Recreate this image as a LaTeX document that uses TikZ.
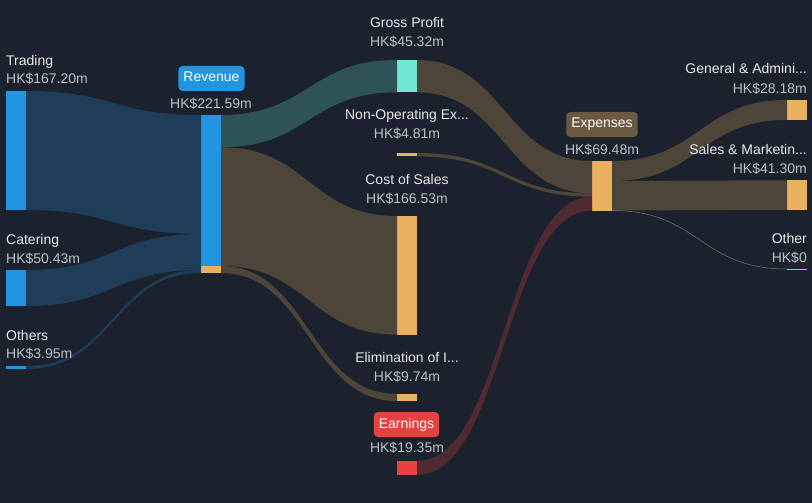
\documentclass[tikz,border=0pt]{standalone}
\usepackage{fontspec}
\setmainfont{Liberation Sans}
\usetikzlibrary{positioning}
\usetikzlibrary{calc}
\definecolor{bgdark}{HTML}{1B212D}
\definecolor{barblue}{HTML}{2394DF}
\definecolor{flowblue}{HTML}{1E3D58}
\definecolor{barteal}{HTML}{6FE6D3}
\definecolor{flowteal}{HTML}{2D5356}
\definecolor{barorange}{HTML}{E8B05F}
\definecolor{flowbrown}{HTML}{4D4538}
\definecolor{barred}{HTML}{E5423F}
\definecolor{flowred}{HTML}{4F2A33}
\definecolor{tagbrown}{HTML}{6B5942}
\definecolor{titletxt}{HTML}{E8EAED}
\definecolor{valtxt}{HTML}{BCC0C6}
\tikzset{
    bar/.style = {rectangle, inner sep=0pt, outer sep=0pt, minimum width=20pt},
    barb/.style = {bar, fill=barblue},
    baro/.style = {bar, fill=barorange},
    title/.style = {inner sep=0pt, text=titletxt, font=\fontsize{14}{16}\selectfont},
    value/.style = {inner sep=0pt, text=valtxt, font=\fontsize{14}{16}\selectfont},
    tagbox/.style = {rectangle, rounded corners=4pt, text=white, inner xsep=5pt, inner ysep=6pt,
                     text height=10pt, text depth=3pt, font=\fontsize{14}{16}\selectfont},
    otherline/.style = {draw=flowbrown!80!white, line width=0.6pt}
}
% filled band between two bars
\newcommand{\sflow}[5]{\fill[#1] #2 .. controls +(87.5,0) and +(-87.5,0) .. #4 -- #5 .. controls +(-87.5,0) and +(87.5,0) .. #3 -- cycle;}

\begin{document}
\begin{tikzpicture}[x=1pt,y=-1pt]
\fill[bgdark] (0,0) rectangle (812,503);
\path[use as bounding box] (0,0) rectangle (812,503);
%
\node[barb, minimum height=119pt] at (16,150.5) (trading) {};
\node[barb, minimum height=36pt] at (16,288) (catering) {};
\node[barb, minimum height=2.8pt] at (16,367.6) (others) {};
\node[barb, minimum height=151pt] at (211,190.5) (rev) {};
\node[baro, minimum height=7pt] at (211,269.5) (revelim) {};
\node[bar, fill=barteal, minimum height=32.3pt] at (407,76.15) (gp) {};
\node[baro, minimum height=3.4pt] at (407,154.7) (nonop) {};
\node[baro, minimum height=118.6pt] at (407,275.3) (cos) {};
\node[baro, minimum height=7pt] at (407,397.5) (elim) {};
\node[bar, fill=barred, minimum height=13.8pt] at (407,467.9) (earn) {};
\node[baro, minimum height=49.5pt] at (602,185.75) (exp) {};
\node[baro, minimum height=20pt] at (797,110) (ga) {};
\node[baro, minimum height=29.5pt] at (797,195) (sm) {};
\node[baro, minimum height=1pt] at (797,269) (oth) {};
%
\sflow{flowblue}{(trading.north east)}{(trading.south east)}{(rev.north west)}{($(rev.north west)+(0,119)$)}
\sflow{flowblue}{(catering.north east)}{(catering.south east)}{($(rev.north west)+(0,119)$)}{($(rev.north west)+(0,155)$)}
\sflow{flowblue}{(others.north east)}{(others.south east)}{($(rev.north west)+(0,155)$)}{(revelim.south west)}
\sflow{flowteal}{(rev.north east)}{($(rev.north east)+(0,32.3)$)}{(gp.north west)}{(gp.south west)}
\sflow{flowbrown}{($(rev.north east)+(0,32.3)$)}{(rev.south east)}{(cos.north west)}{(cos.south west)}
\sflow{flowbrown}{(revelim.north east)}{(revelim.south east)}{(elim.north west)}{(elim.south west)}
\sflow{flowbrown}{(gp.north east)}{(gp.south east)}{(exp.north west)}{($(exp.north west)+(0,32.3)$)}
\sflow{flowbrown}{(nonop.north east)}{(nonop.south east)}{($(exp.north west)+(0,32.3)$)}{($(exp.north west)+(0,35.7)$)}
\sflow{flowred}{(earn.north east)}{(earn.south east)}{($(exp.north west)+(0,35.7)$)}{(exp.south west)}
\sflow{flowbrown}{(exp.north east)}{($(exp.north east)+(0,20)$)}{(ga.north west)}{(ga.south west)}
\sflow{flowbrown}{($(exp.north east)+(0,20)$)}{(exp.south east)}{(sm.north west)}{(sm.south west)}
\draw[otherline] (exp.south east) .. controls +(87.5,0) and +(-87.5,0) .. (oth.west);
%
\node[title, anchor=base west] at (6,66) (trt) {Trading};
\node[value, anchor=base west] at (6,84) (trv) {HK\$167.20m};
\node[title, anchor=base west] at (6,244) (cat) {Catering};
\node[value, anchor=base west] at (6,263) (cav) {HK\$50.43m};
\node[title, anchor=base west] at (6,340) (ott) {Others};
\node[value, anchor=base west] at (6,358) (otv) {HK\$3.95m};
\node[tagbox, fill=barblue] at (211.5,78.5) (revt) {Revenue};
\node[value, anchor=base] at (211,108) (revv) {HK\$221.59m};
\node[title, anchor=base] at (407,28) (gpt) {Gross Profit};
\node[value, anchor=base] at (407,47) (gpv) {HK\$45.32m};
\node[title, anchor=base] at (407,120) (not) {Non-Operating Ex...};
\node[value, anchor=base] at (407,139) (nov) {HK\$4.81m};
\node[title, anchor=base] at (407,184) (cst) {Cost of Sales};
\node[value, anchor=base] at (407,203) (csv) {HK\$166.53m};
\node[title, anchor=base] at (407,362) (elt) {Elimination of I...};
\node[value, anchor=base] at (407,381) (elv) {HK\$9.74m};
\node[tagbox, fill=barred] at (406.5,424.5) (eat) {Earnings};
\node[value, anchor=base] at (407,452) (eav) {HK\$19.35m};
\node[tagbox, fill=tagbrown] at (602,124.5) (ext) {Expenses};
\node[value, anchor=base] at (602,154) (exv) {HK\$69.48m};
\node[title, anchor=base east] at (807,74) (gat) {General \& Admini...};
\node[value, anchor=base east] at (807,93) (gav) {HK\$28.18m};
\node[title, anchor=base east] at (807,154) (smt) {Sales \& Marketin...};
\node[value, anchor=base east] at (807,173) (smv) {HK\$41.30m};
\node[title, anchor=base east] at (807,243) (oht) {Other};
\node[value, anchor=base east] at (807,262) (ohv) {HK\$0};

\end{tikzpicture}
\end{document}
